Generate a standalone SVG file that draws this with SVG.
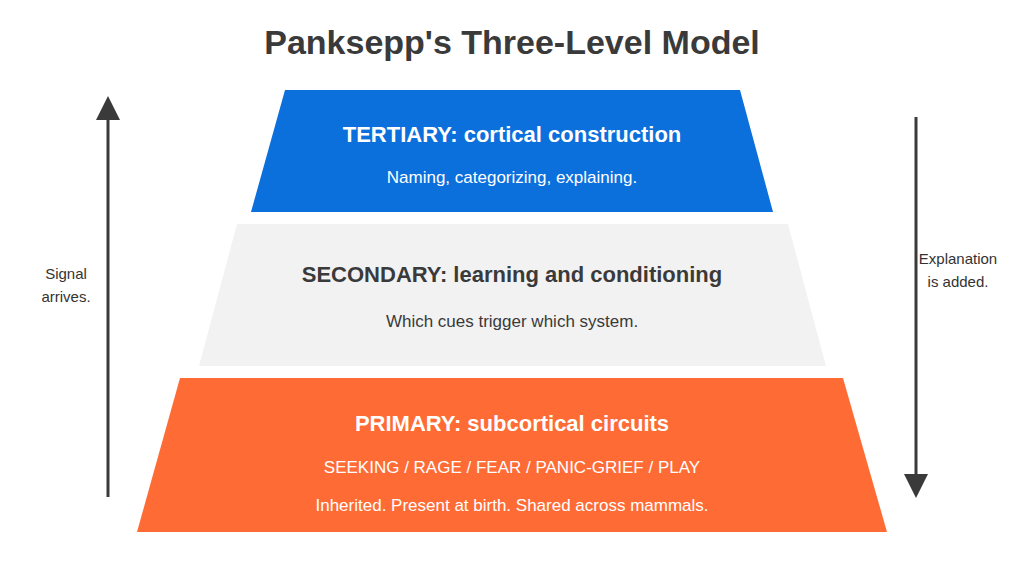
<svg xmlns="http://www.w3.org/2000/svg" width="1024" height="562" viewBox="0 0 1024 562">
<style>
text{font-family:"Liberation Sans",Arial,sans-serif;text-anchor:middle}
.t{font-weight:bold;font-size:22px}
.s{font-size:17px}
.d{fill:#3a3a3a}
.w{fill:#ffffff}
.side{font-size:15px;fill:#333}
</style>
<defs>
<marker id="ah" markerWidth="8" markerHeight="8" refX="4" refY="4" orient="auto" markerUnits="userSpaceOnUse" viewBox="0 0 8 8"><path d="M0,0 L8,4 L0,8 z" fill="#3a3a3a"/></marker>
</defs>
<rect width="1024" height="562" fill="#fff"/>
<text x="512" y="54" style="font-weight:bold;font-size:34px" class="d">Panksepp's Three-Level Model</text>
<g id="tertiary">
<polygon points="285,90 740,90 773,212 251,212" fill="#0b6fdc"/>
<text x="512" y="142" class="t w">TERTIARY: cortical construction</text>
<text x="512" y="183" class="s w">Naming, categorizing, explaining.</text>
</g>
<g id="secondary">
<polygon points="237,224 788,224 826,366 199,366" fill="#f2f2f2"/>
<text x="512" y="282" class="t d">SECONDARY: learning and conditioning</text>
<text x="512" y="327" class="s d">Which cues trigger which system.</text>
</g>
<g id="primary">
<polygon points="180,378 843,378 887,532 137,532" fill="#ff6b35"/>
<text x="512" y="431" class="t w">PRIMARY: subcortical circuits</text>
<text x="512" y="473" class="s w">SEEKING / RAGE / FEAR / PANIC-GRIEF / PLAY</text>
<text x="512" y="511" class="s w">Inherited. Present at birth. Shared across mammals.</text>
</g>
<g id="connectors">
<line x1="108" y1="497" x2="108" y2="118" stroke="#3a3a3a" stroke-width="3"/>
<polygon points="108,96 96,120 120,120" fill="#3a3a3a"/>
<line x1="916" y1="117" x2="916" y2="476" stroke="#3a3a3a" stroke-width="3"/>
<polygon points="916,498 904,474 928,474" fill="#3a3a3a"/>
</g>
<g id="labels">
<text x="66" y="279" class="side">Signal</text>
<text x="66" y="302" class="side">arrives.</text>
<text x="958" y="264" class="side">Explanation</text>
<text x="958" y="287" class="side">is added.</text>
</g>
</svg>
